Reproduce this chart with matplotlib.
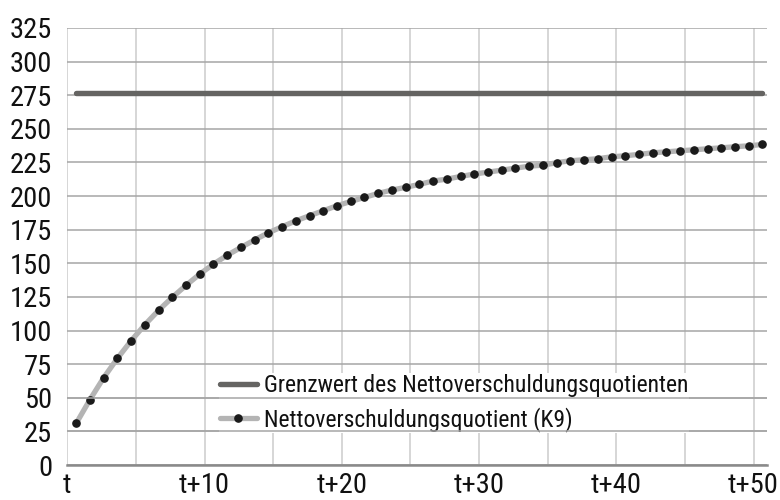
import numpy as np
import matplotlib
matplotlib.use("Agg")
import matplotlib.pyplot as plt
from matplotlib.ticker import MultipleLocator, FixedLocator

plt.rcParams['font.family'] = ['Roboto Condensed', 'Liberation Sans', 'DejaVu Sans']

# Net debt ratio path over 51 periods and its limit value
quotient_k9 = [31.0, 48.6, 64.9, 79.3, 92.4, 104.3, 115.0, 124.7, 133.6, 142.0,
               149.4, 156.0, 161.8, 167.4, 172.7, 177.2, 181.6, 185.4, 189.1, 192.8,
               196.0, 199.0, 202.0, 204.5, 206.5, 208.7, 211.2, 212.6, 214.6, 216.4,
               217.8, 219.3, 220.8, 222.2, 223.0, 224.8, 226.3, 227.0, 227.8, 229.2,
               230.0, 231.0, 232.2, 232.9, 233.7, 234.4, 235.2, 235.9, 236.7, 237.4,
               238.4]
limit_value = 277.0
tick_labels = ["t", "t+10", "t+20", "t+30", "t+40", "t+50"]
tick_steps = [0, 10, 20, 30, 40, 50]
y_ticks = list(range(0, 326, 25))

label_main = "Grenzwert des Nettoverschuldungsquotienten"
label_k9 = "Nettoverschuldungsquotient (K9)"

periods = np.arange(len(quotient_k9)) + 0.65

fig = plt.figure(figsize=(7.8, 5.0), dpi=100)
ax = fig.add_axes([67.3 / 780, 1 - 465 / 500, 700 / 780, 437 / 500])

ax.plot(periods, [limit_value] * len(periods), color="#656462", lw=3.9,
        solid_capstyle="round", label=label_main, zorder=3)
ax.plot(periods, quotient_k9, color="#b4b4b4", lw=3.8, solid_capstyle="round",
        marker="o", markersize=5.2, markerfacecolor="#1a1a1a",
        markeredgecolor="#1a1a1a", label=label_k9, zorder=4)

ax.set_xlim(0, 51)
ax.set_ylim(0, 325)
ax.xaxis.set_major_locator(FixedLocator(tick_steps))
ax.set_xticklabels(tick_labels)
ax.xaxis.set_minor_locator(MultipleLocator(5))
ax.set_yticks(y_ticks)

grid_h = dict(color="#a6a6a6", lw=1.1)
ax.grid(axis="x", which="both", color="#cccccc", lw=1.1, zorder=0)
ax.grid(axis="y", which="major", zorder=0, **grid_h)
ax.set_axisbelow(True)

for side in ("top", "right", "left"):
    ax.spines[side].set_visible(False)
ax.spines["bottom"].set_color("#8a8a8a")
ax.spines["bottom"].set_linewidth(1.8)

ax.tick_params(axis="both", which="both", length=0, labelsize=20.5, colors="#111111")
ax.tick_params(axis="y", pad=11)
ax.tick_params(axis="x", pad=5)

leg = ax.legend(loc="upper left", bbox_to_anchor=(219 / 780, 1 - 373 / 500),
                bbox_transform=fig.transFigure, frameon=True, fancybox=False,
                framealpha=1.0, edgecolor="none", facecolor="white",
                fontsize=17, handlelength=1.55, handletextpad=0.3,
                labelspacing=0.4, borderpad=0.05, borderaxespad=0, numpoints=1)
for txt in leg.get_texts():
    txt.set_color("#111111")

# horizontal gridlines stay visible through the legend block
for level in y_ticks[1:3]:
    ax.axhline(level, zorder=6, **grid_h)

fig.savefig("out.png", dpi=100, facecolor="white")
